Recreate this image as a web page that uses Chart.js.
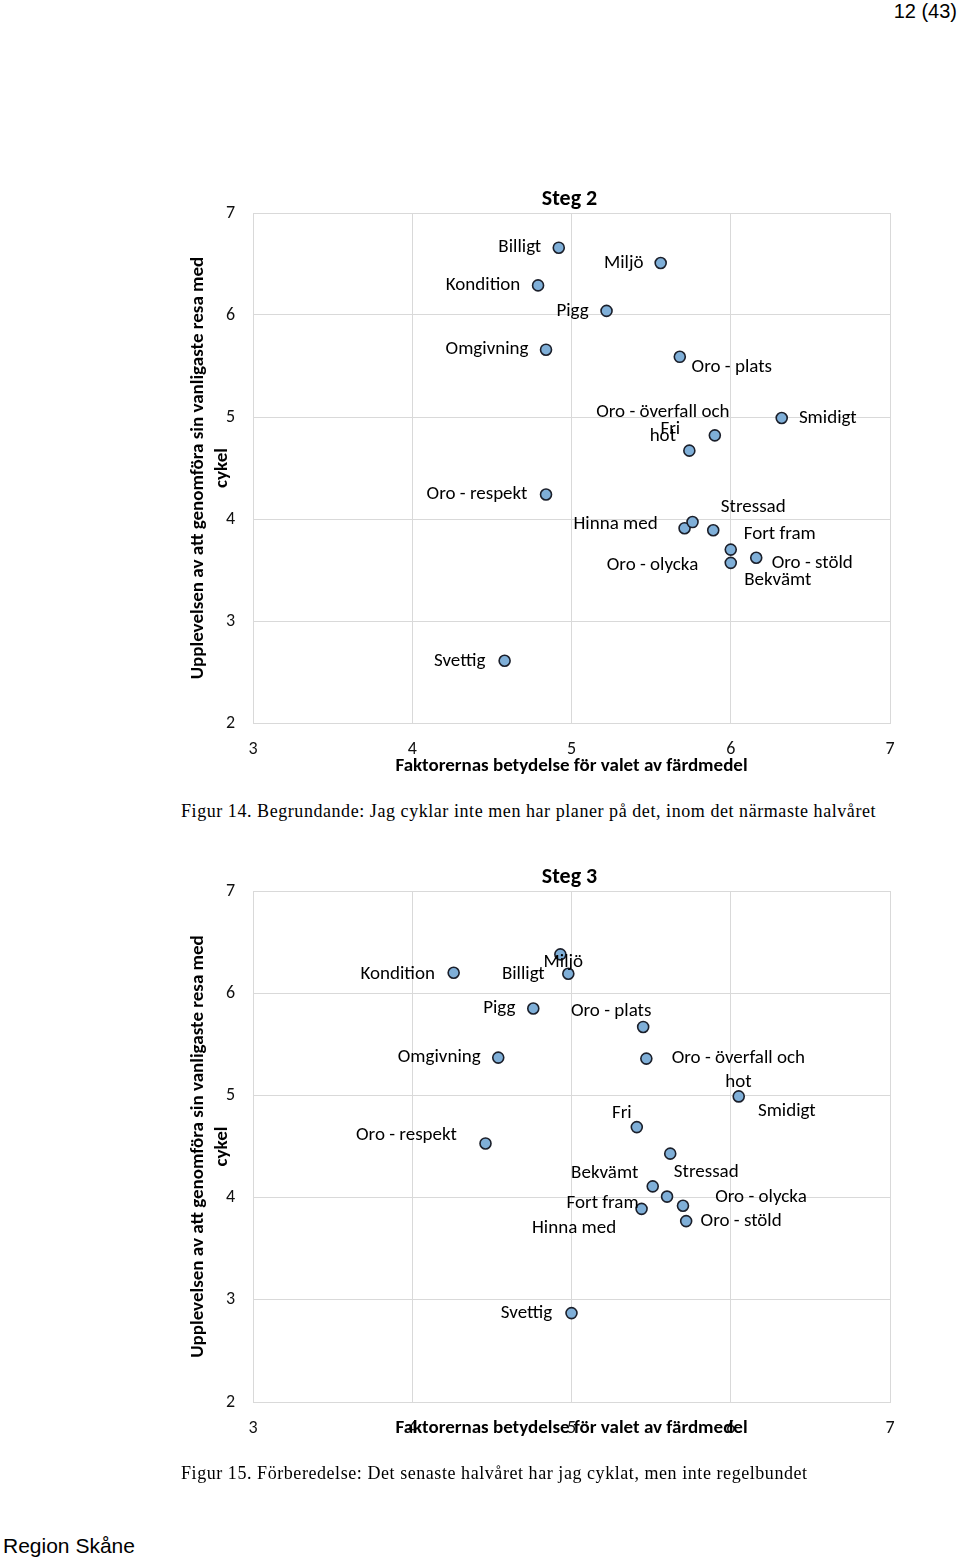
<!DOCTYPE html>
<html>
<head>
<meta charset="utf-8">
<script src="https://cdn.jsdelivr.net/npm/chart.js@4.4.1/dist/chart.umd.min.js"></script>
<style>
  html,body{margin:0;padding:0;background:#fff;}
  body{width:960px;height:1559px;position:relative;overflow:hidden;}
  .wrap{position:absolute;left:0;width:960px;}
  #w1{top:170px;height:620px;}
  #w2{top:848px;height:621px;}
  .hdr{position:absolute;right:3px;top:0px;font:20px "Liberation Sans",Arial,sans-serif;color:#000;}
  .ftr{position:absolute;left:3px;top:1534px;font:21px "Liberation Sans",Arial,sans-serif;color:#000;}
  .cap{position:absolute;left:181px;font:18px "Liberation Serif","Times New Roman",serif;color:#000;letter-spacing:0.56px;white-space:nowrap;}
  #cap1{top:801px;}
  #cap2{top:1463px;}
</style>
</head>
<body>
<div class="hdr">12 (43)</div>
<div class="wrap" id="w1"><canvas id="c1"></canvas></div>
<div class="cap" id="cap1">Figur 14. Begrundande: Jag cyklar inte men har planer på det, inom det närmaste halvåret</div>
<div class="wrap" id="w2"><canvas id="c2"></canvas></div>
<div class="cap" id="cap2">Figur 15. Förberedelse: Det senaste halvåret har jag cyklat, men inte regelbundet</div>
<div class="ftr">Region Skåne</div>
<script>
// ---------- data ----------
const xTicks = [3, 4, 5, 6, 7];
const yTicks = [2, 3, 4, 5, 6, 7];
const xTitle = "Faktorernas betydelse för valet av färdmedel";
const yTitleLines = ["Upplevelsen av att genomföra sin vanligaste resa med", "cykel"];

// Steg 2
const title1 = "Steg 2";
const names1 = ["Billigt","Miljö","Kondition","Pigg","Omgivning","Oro - plats","Smidigt",
  "Oro - överfall och\nhot","Fri","Oro - respekt","Stressad","Hinna med","Fort fram",
  "Oro - stöld","Bekvämt","Oro - olycka","Svettig"];
const betydelse1  = [4.92,5.56,4.79,5.22,4.84,5.68,6.32,5.90,5.74,4.84,5.89,5.71,6.00,6.16,6.00,5.76,4.58];
const upplevelse1 = [6.66,6.51,6.29,6.04,5.66,5.59,4.99,4.82,4.67,4.24,3.89,3.91,3.70,3.62,3.57,3.97,2.61];

// Steg 3
const title2 = "Steg 3";
const names2 = ["Miljö","Billigt","Kondition","Pigg","Oro - plats","Omgivning","Oro - överfall och\nhot",
  "Smidigt","Fri","Oro - respekt","Stressad","Bekvämt","Hinna med","Oro - olycka","Fort fram",
  "Oro - stöld","Svettig"];
const betydelse2  = [4.93,4.98,4.26,4.76,5.45,4.54,5.47,6.05,5.41,4.46,5.62,5.51,5.60,5.70,5.44,5.72,5.00];
const upplevelse2 = [6.38,6.19,6.20,5.85,5.67,5.37,5.36,4.99,4.69,4.53,4.43,4.11,4.01,3.92,3.89,3.77,2.87];

// ---------- label placement (pixel offsets of label centre from its point) ----------
const offsets1 = [[-39,0],[-37,0],[-55,0],[-34,0],[-59,0],[52,10],[46,0],[-52,-11],[-19,-21],
  [-69,0],[40,-23],[-69,-4],[49,-15],[56,5],[47,17],[-40,43],[-45,0]];
const offsets2 = [[3,8],[-45,0],[-56,1],[-34,0],[-32,-16],[-59,0],[92,12],[48,15],[-15,-14],
  [-79,-8],[36,19],[-48,-13],[-93,32],[78,-9],[-39,-6],[55,0],[-45,0]];

const FONT = "Carlito, Lato, 'Open Sans', sans-serif";

const decorPlugin = {
  id: 'decor',
  afterDatasetsDraw(chart, args, o) {
    const ctx = chart.ctx, a = chart.chartArea;
    const meta = chart.getDatasetMeta(0);
    ctx.save();
    ctx.fillStyle = '#000';
    ctx.textAlign = 'center';
    ctx.textBaseline = 'middle';
    // point labels
    ctx.font = "19px " + FONT;
    meta.data.forEach((el, i) => {
      const lines = o.names[i].split('\n');
      const [dx, dy] = o.offsets[i];
      lines.forEach((ln, k) => {
        ctx.fillText(ln, el.x + dx, el.y + dy + (k - (lines.length - 1) / 2) * 24);
      });
    });
    // chart title
    ctx.font = "bold 22px " + FONT;
    ctx.fillText(o.title, (a.left + a.right) / 2 - 2, a.top - 14);
    // x axis title
    ctx.font = "bold 19px " + FONT;
    ctx.fillText(xTitle, (a.left + a.right) / 2, a.bottom + o.xTitleGap);
    // y axis title
    const cy = (a.top + a.bottom) / 2;
    ctx.translate(198, cy);
    ctx.rotate(-Math.PI / 2);
    ctx.fillText(yTitleLines[0], 0, 0);
    ctx.fillText(yTitleLines[1], 0, 24);
    ctx.restore();
  }
};

function makeChart(id, xs, ys, names, offsets, title, xTitleGap, xTickPad) {
  const pts = xs.map((x, i) => ({x: x, y: ys[i]}));
  return new Chart(document.getElementById(id), {
    type: 'scatter',
    data: { datasets: [{
      data: pts,
      pointRadius: 5.5,
      pointHoverRadius: 5.5,
      pointBackgroundColor: '#7fafd8',
      pointBorderColor: '#1b1f2a',
      pointBorderWidth: 1.6
    }]},
    options: {
      responsive: true,
      maintainAspectRatio: false,
      animation: false,
      events: [],
      layout: { padding: { top: 43, right: 70, bottom: 0, left: 0 } },
      plugins: {
        legend: { display: false },
        tooltip: { enabled: false },
        decor: { names: names, offsets: offsets, title: title, xTitleGap: xTitleGap }
      },
      scales: {
        x: {
          type: 'linear', min: 3, max: 7,
          afterBuildTicks: s => { s.ticks = xTicks.map(v => ({value: v})); },
          ticks: { color: '#111', font: { family: FONT, size: 18 }, padding: xTickPad, maxRotation: 0, autoSkip: false },
          grid: { color: '#d9d9d9', lineWidth: 1, drawTicks: false },
          border: { color: '#d9d9d9' },
          afterFit: s => { s.height = 620 - 553; }
        },
        y: {
          type: 'linear', min: 2, max: 7,
          afterBuildTicks: s => { s.ticks = yTicks.map(v => ({value: v})); },
          ticks: { color: '#111', font: { family: FONT, size: 18 }, padding: 18 },
          grid: { color: '#d9d9d9', lineWidth: 1, drawTicks: false },
          border: { color: '#d9d9d9' },
          afterFit: s => { s.width = 253; }
        }
      }
    },
    plugins: [decorPlugin]
  });
}

makeChart('c1', betydelse1, upplevelse1, names1, offsets1, title1, 43, 16);
makeChart('c2', betydelse2, upplevelse2, names2, offsets2, title2, 26, 16);
</script>
</body>
</html>
